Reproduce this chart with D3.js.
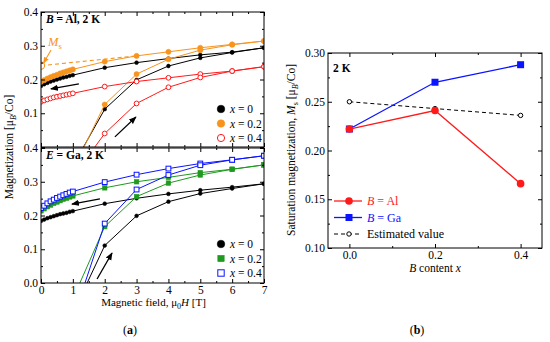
<!DOCTYPE html>
<meta charset="utf-8">
<style>
  body { margin: 0; background: #fff; }
  svg text { font-family: "Liberation Serif", "DejaVu Serif", serif; }
  .axis path { display: none; }
  .axis line { stroke: #000; }
  .axis text { font-size: 11.5px; fill: #000; font-family: "Liberation Serif", serif; }
</style>
<body>
<script src="https://cdn.jsdelivr.net/npm/d3@7"></script>
<script>

// field values: dense low-field steps, then whole-tesla points
const fieldLow = [0, 0.1, 0.2, 0.3, 0.4, 0.5, 0.6, 0.7, 0.8, 0.9, 1.0];
const fieldHigh = [2, 3, 4, 5, 6, 7];
const fieldDown = fieldLow.concat(fieldHigh);
const fieldUp = [1, 2, 3, 4, 5, 6, 7];

// B = Al panel, decreasing field branch (over fieldDown) and increasing (over fieldUp)
const alX0Down = [0.181, 0.186, 0.190, 0.194, 0.197, 0.200, 0.203, 0.206, 0.208, 0.211, 0.213, 0.235, 0.250, 0.262, 0.273, 0.281, 0.294];
const alX0Up = [-0.056, 0.112, 0.199, 0.240, 0.264, 0.280, 0.294];
const alX2Down = [0.193, 0.198, 0.203, 0.207, 0.211, 0.214, 0.218, 0.221, 0.224, 0.227, 0.230, 0.253, 0.270, 0.282, 0.294, 0.304, 0.314];
const alX2Up = [-0.068, 0.126, 0.216, 0.260, 0.287, 0.303, 0.314];
const alX4Down = [0.134, 0.138, 0.141, 0.144, 0.147, 0.149, 0.151, 0.153, 0.155, 0.157, 0.159, 0.179, 0.194, 0.205, 0.216, 0.225, 0.238];
const alX4Up = [-0.089, 0.040, 0.129, 0.177, 0.206, 0.225, 0.238];

// E = Ga panel
const gaX0Down = [0.184, 0.188, 0.192, 0.195, 0.198, 0.201, 0.204, 0.206, 0.208, 0.211, 0.213, 0.235, 0.251, 0.264, 0.275, 0.284, 0.294];
const gaX0Up = [-0.090, 0.111, 0.199, 0.241, 0.265, 0.280, 0.294];
const gaX2Down = [0.214, 0.220, 0.226, 0.231, 0.236, 0.240, 0.244, 0.248, 0.251, 0.255, 0.258, 0.282, 0.300, 0.313, 0.327, 0.337, 0.350];
const gaX2Up = [-0.047, 0.167, 0.256, 0.296, 0.320, 0.337, 0.350];
const gaX4Down = [0.222, 0.229, 0.236, 0.242, 0.247, 0.252, 0.256, 0.260, 0.264, 0.268, 0.271, 0.299, 0.321, 0.339, 0.354, 0.365, 0.377];
const gaX4Up = [-0.108, 0.176, 0.277, 0.320, 0.349, 0.365, 0.377];

// saturation magnetization extrapolation for x = 0.2 (Al)
const msField = [0, 3];
const msLine = [0.241, 0.270];

// panel (b)
const bContent = [0.0, 0.2, 0.4];
const msAl = [0.222, 0.241, 0.166];
const msGa = [0.222, 0.270, 0.288];
const msEst = [0.250, 0.243, 0.236];

const fieldTicks = [0, 1, 2, 3, 4, 5, 6, 7];
const magTicks = [0.0, 0.1, 0.2, 0.3, 0.4];
const contentTicks = [0.0, 0.2, 0.4];
const msTicks = [0.10, 0.15, 0.20, 0.25, 0.30];

const colBlack = "#000", colOrange = "#f7941d", colRed = "#ff1a1a",
      colGreen = "#1e9a1e", colBlue = "#0a14ff";

const svg = d3.select("body").append("svg")
    .attr("width", 550).attr("height", 342);

const defs = svg.append("defs");
defs.append("marker")
    .attr("id", "arrow")
    .attr("viewBox", "0 0 10 10")
    .attr("refX", 9).attr("refY", 5)
    .attr("markerWidth", 6).attr("markerHeight", 6)
    .attr("orient", "auto")
  .append("path")
    .attr("d", "M0,1 L10,5 L0,9 z")
    .attr("fill", "#000");
defs.append("marker")
    .attr("id", "arrowO")
    .attr("viewBox", "0 0 10 10")
    .attr("refX", 9).attr("refY", 5)
    .attr("markerWidth", 6).attr("markerHeight", 6)
    .attr("orient", "auto")
  .append("path")
    .attr("d", "M0,1 L10,5 L0,9 z")
    .attr("fill", colOrange);

// ---------- panel (a) ----------
const x = d3.scaleLinear().domain([0, 7]).range([41, 264]);
const yTop = d3.scaleLinear().domain([0, 0.4]).range([147, 12]);
const yBot = d3.scaleLinear().domain([0, 0.4]).range([283, 148]);

function frame(g, xs, ys, xt, xm, yt, ym, yFmt, showY, showX, xFmt) {
  const [x0, x1] = xs.range(), [y0, y1] = ys.range();
  // bottom
  g.append("g").attr("class", "axis").attr("transform", `translate(0,${y0})`)
    .call(d3.axisBottom(xs).tickValues(xm).tickSize(-2).tickFormat(""));
  g.append("g").attr("class", "axis").attr("transform", `translate(0,${y0})`)
    .call(d3.axisBottom(xs).tickValues(xt).tickSize(-4).tickPadding(3)
      .tickFormat(showX ? xFmt : ""));
  // top
  g.append("g").attr("class", "axis").attr("transform", `translate(0,${y1})`)
    .call(d3.axisTop(xs).tickValues(xm).tickSize(-2).tickFormat(""));
  g.append("g").attr("class", "axis").attr("transform", `translate(0,${y1})`)
    .call(d3.axisTop(xs).tickValues(xt).tickSize(-4).tickFormat(""));
  // left
  g.append("g").attr("class", "axis").attr("transform", `translate(${x0},0)`)
    .call(d3.axisLeft(ys).tickValues(ym).tickSize(-2).tickFormat(""));
  g.append("g").attr("class", "axis").attr("transform", `translate(${x0},0)`)
    .call(d3.axisLeft(ys).tickValues(yt).tickSize(-4).tickPadding(3)
      .tickFormat(d => showY(d) ? yFmt(d) : ""));
  // right
  g.append("g").attr("class", "axis").attr("transform", `translate(${x1},0)`)
    .call(d3.axisRight(ys).tickValues(ym).tickSize(-2).tickFormat(""));
  g.append("g").attr("class", "axis").attr("transform", `translate(${x1},0)`)
    .call(d3.axisRight(ys).tickValues(yt).tickSize(-4).tickFormat(""));
  g.append("rect")
    .attr("x", x0).attr("y", y1).attr("width", x1 - x0).attr("height", y0 - y1)
    .attr("fill", "none").attr("stroke", "#000").attr("stroke-width", 1);
}

const fieldMinor = d3.range(0.5, 7, 1);
const magMinor = [0.05, 0.15, 0.25, 0.35];

function drawPanel(id, ys, series, label, legendTop) {
  const g = svg.append("g");
  const [y0, y1] = ys.range();
  defs.append("clipPath").attr("id", id)
    .append("rect").attr("x", x.range()[0]).attr("y", y1)
    .attr("width", x.range()[1] - x.range()[0]).attr("height", y0 - y1);
  const plot = g.append("g").attr("clip-path", `url(#${id})`);
  const line = d3.line().x(d => x(d[0])).y(d => ys(d[1]));

  series.forEach(s => {
    const down = fieldDown.map((f, i) => [f, s.down[i]]);
    const up = fieldUp.map((f, i) => [f, s.up[i]]);
    [down, up].forEach(pts => {
      plot.append("path").attr("d", line(pts))
        .attr("fill", "none").attr("stroke", s.color).attr("stroke-width", 1);
    });
    const all = down.concat(up.slice(1));
    drawMarks(plot, all, s, ys, s.size);
  });

  if (id === "clipAl") {
    plot.append("path").attr("d", line(msField.map((f, i) => [f, msLine[i]])))
      .attr("fill", "none").attr("stroke", colOrange).attr("stroke-width", 1.1)
      .attr("stroke-dasharray", "4,3");
    plot.append("circle").attr("cx", x(0)).attr("cy", ys(msLine[0])).attr("r", 3.6)
      .attr("fill", "#fff").attr("stroke", colOrange).attr("stroke-width", 1.1);
  }

  frame(g, x, ys, fieldTicks, fieldMinor, magTicks, magMinor, d3.format(".1f"),
    d => id === "clipGa" || d > 0, id === "clipGa", d3.format("d"));

  // panel label
  const t = g.append("text").attr("x", 46).attr("y", y1 + 11)
    .attr("font-size", 11.5).attr("font-weight", "bold");
  t.append("tspan").attr("font-style", "italic").text(label[0]);
  t.append("tspan").text(label[1]);

  // legend
  const lg = g.append("g").attr("transform", `translate(221,${legendTop})`);
  series.forEach((s, i) => {
    const row = lg.append("g").attr("transform", `translate(0,${i * 14.5})`);
    drawMarks(row, [[0, 0]], s, null, s.legendSize);
    const tx = row.append("text").attr("x", 9).attr("y", 4).attr("font-size", 11.5)
      .attr("fill", "#000");
    tx.append("tspan").attr("font-style", "italic").text("x");
    tx.append("tspan").text(" = " + s.name);
  });
  return g;
}

function drawMarks(g, pts, s, ys, size) {
  const px = d => ys ? x(d[0]) : 0;
  const py = d => ys ? ys(d[1]) : 0;
  if (s.shape === "circle") {
    g.selectAll(null).data(pts).enter().append("circle")
      .attr("cx", px).attr("cy", py).attr("r", size)
      .attr("fill", s.open ? "#fff" : s.color)
      .attr("stroke", s.color).attr("stroke-width", s.open ? 1 : 0.5);
  } else {
    g.selectAll(null).data(pts).enter().append("rect")
      .attr("x", d => px(d) - size).attr("y", d => py(d) - size)
      .attr("width", size * 2).attr("height", size * 2)
      .attr("fill", s.open ? "#fff" : s.color)
      .attr("stroke", s.color).attr("stroke-width", s.open ? 1 : 0.5);
  }
}

drawPanel("clipAl", yTop, [
  {name: "0", down: alX0Down, up: alX0Up, color: colBlack, shape: "circle", size: 1.9, legendSize: 3.8},
  {name: "0.2", down: alX2Down, up: alX2Up, color: colOrange, shape: "circle", size: 2.6, legendSize: 3.8},
  {name: "0.4", down: alX4Down, up: alX4Up, color: colRed, shape: "circle", open: true, size: 2.4, legendSize: 3.6}
], ["B", " = Al, 2 K"], 109);

drawPanel("clipGa", yBot, [
  {name: "0", down: gaX0Down, up: gaX0Up, color: colBlack, shape: "circle", size: 1.9, legendSize: 3.8},
  {name: "0.2", down: gaX2Down, up: gaX2Up, color: colGreen, shape: "square", size: 2.3, legendSize: 3.2},
  {name: "0.4", down: gaX4Down, up: gaX4Up, color: colBlue, shape: "square", open: true, size: 2.4, legendSize: 3.2}
], ["E", " = Ga, 2 K"], 244);

// Ms annotation
const msLab = svg.append("text").attr("x", 48).attr("y", 46).attr("fill", colOrange)
  .attr("font-size", 12.5);
msLab.append("tspan").attr("font-style", "italic").text("M");
msLab.append("tspan").attr("font-size", 8.5).attr("dy", 2.5).text("s");
svg.append("line")
  .attr("x1", 51).attr("y1", 50).attr("x2", x(0) + 2.5).attr("y2", yTop(msLine[0]) - 2.5)
  .attr("stroke", colOrange).attr("stroke-width", 1.1).attr("marker-end", "url(#arrowO)");

// sweep direction arrows (data coordinates)
const arrows = [
  {ys: yTop, from: [1.19, 0.187], to: [0.31, 0.172]},
  {ys: yTop, from: [2.32, 0.030], to: [2.98, 0.089]},
  {ys: yBot, from: [1.85, 0.249], to: [0.97, 0.234]},
  {ys: yBot, from: [1.76, 0.012], to: [2.23, 0.089]}
];
arrows.forEach(a => {
  svg.append("line")
    .attr("x1", x(a.from[0])).attr("y1", a.ys(a.from[1]))
    .attr("x2", x(a.to[0])).attr("y2", a.ys(a.to[1]))
    .attr("stroke", "#000").attr("stroke-width", 1.3).attr("marker-end", "url(#arrow)");
});

// axis titles (a)
const xt = svg.append("text").attr("x", x(3.5) + 1).attr("y", 306).attr("text-anchor", "middle")
  .attr("font-size", 11);
xt.append("tspan").text("Magnetic field, μ");
xt.append("tspan").attr("font-size", 8).attr("dy", 2.5).text("0");
xt.append("tspan").attr("font-style", "italic").attr("dy", -2.5).text("H");
xt.append("tspan").text(" [T]");

const yt = svg.append("text").attr("transform", "translate(13,147) rotate(-90)")
  .attr("text-anchor", "middle").attr("font-size", 11.5);
yt.append("tspan").text("Magnetization  [μ");
yt.append("tspan").attr("font-size", 8).attr("font-style", "italic").attr("dy", 2.5).text("B");
yt.append("tspan").attr("dy", -2.5).text("/Co]");

svg.append("text").attr("x", 130).attr("y", 334).attr("text-anchor", "middle")
  .attr("font-size", 12).html("(<tspan font-weight='bold'>a</tspan>)");

// ---------- panel (b) ----------
const xb = d3.scaleLinear().domain([-0.05, 0.45]).range([328, 542]);
const yb = d3.scaleLinear().domain([0.10, 0.30]).range([248, 53]);
const gb = svg.append("g");
const lineB = d3.line().x((d, i) => xb(bContent[i])).y(d => yb(d));

gb.append("path").attr("d", lineB(msEst)).attr("fill", "none")
  .attr("stroke", "#000").attr("stroke-width", 1).attr("stroke-dasharray", "4,3");
gb.selectAll(null).data(msEst).enter().append("circle")
  .attr("cx", (d, i) => xb(bContent[i])).attr("cy", d => yb(d)).attr("r", 2.2)
  .attr("fill", "#fff").attr("stroke", "#000").attr("stroke-width", 1);

gb.append("path").attr("d", lineB(msGa)).attr("fill", "none")
  .attr("stroke", colBlue).attr("stroke-width", 1.3);
gb.selectAll(null).data(msGa).enter().append("rect")
  .attr("x", (d, i) => xb(bContent[i]) - 3.5).attr("y", d => yb(d) - 3.5)
  .attr("width", 7).attr("height", 7).attr("fill", colBlue);

gb.append("path").attr("d", lineB(msAl)).attr("fill", "none")
  .attr("stroke", colRed).attr("stroke-width", 1.3);
gb.selectAll(null).data(msAl).enter().append("circle")
  .attr("cx", (d, i) => xb(bContent[i])).attr("cy", d => yb(d)).attr("r", 3.8)
  .attr("fill", colRed);

frame(gb, xb, yb, contentTicks, [0.1, 0.3], msTicks, [0.125, 0.175, 0.225, 0.275],
  d3.format(".2f"), () => true, true, d3.format(".1f"));

gb.append("text").attr("x", 333).attr("y", 72).attr("font-size", 11.5)
  .attr("font-weight", "bold").text("2 K");

// legend (b)
const legB = [
  {label: ["B", " = Al"], color: colRed, mark: "circle", dash: null},
  {label: ["B", " = Ga"], color: colBlue, mark: "square", dash: null},
  {label: ["", "Estimated value"], color: "#000", mark: "open", dash: "4,3"}
];
legB.forEach((l, i) => {
  const yy = 201 + i * 16.5;
  gb.append("line").attr("x1", 334).attr("x2", 362).attr("y1", yy).attr("y2", yy)
    .attr("stroke", l.color).attr("stroke-width", l.dash ? 1 : 1.3)
    .attr("stroke-dasharray", l.dash);
  if (l.mark === "circle") {
    gb.append("circle").attr("cx", 349).attr("cy", yy).attr("r", 3.8).attr("fill", l.color);
  } else if (l.mark === "square") {
    gb.append("rect").attr("x", 345.5).attr("y", yy - 3.5).attr("width", 7).attr("height", 7)
      .attr("fill", l.color);
  } else {
    gb.append("circle").attr("cx", 349).attr("cy", yy).attr("r", 2.2)
      .attr("fill", "#fff").attr("stroke", "#000");
  }
  const t = gb.append("text").attr("x", 367).attr("y", yy + 4).attr("font-size", 12)
    .attr("fill", l.color);
  t.append("tspan").attr("font-style", "italic").text(l.label[0]);
  t.append("tspan").text(l.label[1]);
});

const xtb = svg.append("text").attr("x", xb(0.2)).attr("y", 272).attr("text-anchor", "middle")
  .attr("font-size", 11.5);
xtb.append("tspan").attr("font-style", "italic").text("B");
xtb.append("tspan").text(" content ");
xtb.append("tspan").attr("font-style", "italic").text("x");

const ytb = svg.append("text").attr("transform", "translate(295,150) rotate(-90)")
  .attr("text-anchor", "middle").attr("font-size", 11.5);
ytb.append("tspan").text("Saturation magnetization, ");
ytb.append("tspan").attr("font-style", "italic").text("M");
ytb.append("tspan").attr("font-size", 8).attr("dy", 2.5).text("s");
ytb.append("tspan").attr("dy", -2.5).text(" [μ");
ytb.append("tspan").attr("font-size", 8).attr("font-style", "italic").attr("dy", 2.5).text("B");
ytb.append("tspan").attr("dy", -2.5).text("/Co]");

svg.append("text").attr("x", 417).attr("y", 334).attr("text-anchor", "middle")
  .attr("font-size", 12).html("(<tspan font-weight='bold'>b</tspan>)");

</script>
</body>
